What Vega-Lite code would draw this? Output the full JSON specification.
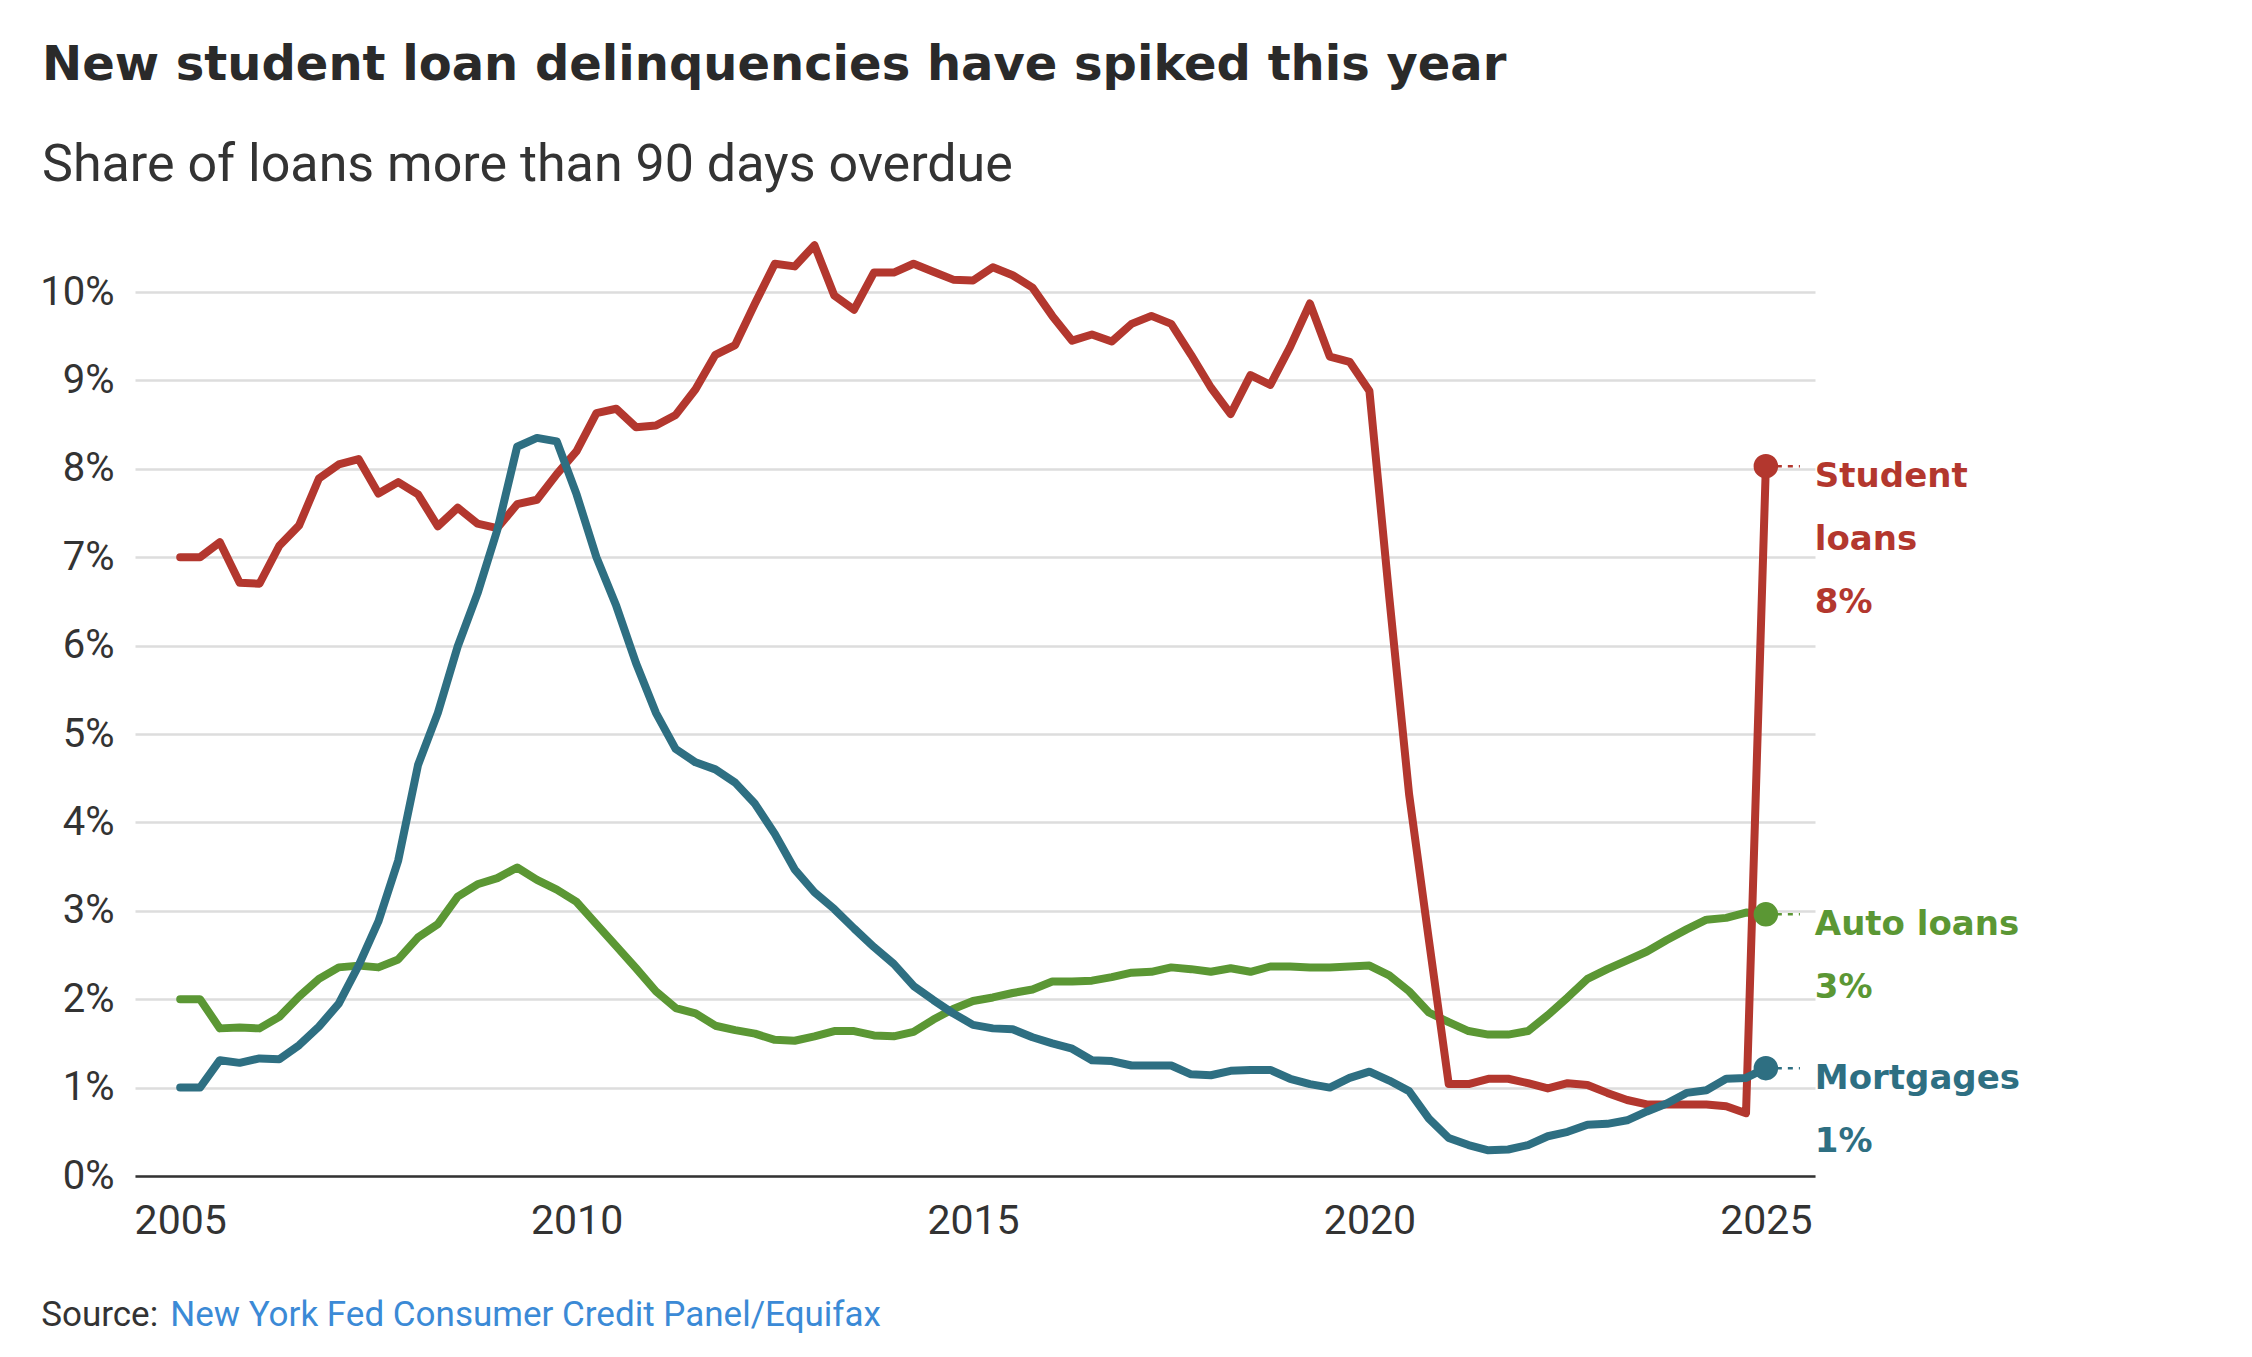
{
  "$schema": "https://vega.github.io/schema/vega-lite/v6.json",
  "autosize": {"type": "none"},
  "padding": {"left": 135, "top": 239, "right": 437, "bottom": 181},
  "width": 1680,
  "height": 937,
  "background": "white",
  "title": {
    "text": "New student loan delinquencies have spiked this year",
    "subtitle": "Share of loans more than 90 days overdue",
    "anchor": "start",
    "frame": "group",
    "dx": -93,
    "offset": 48,
    "font": "DejaVu Sans",
    "fontSize": 48,
    "fontWeight": "bold",
    "color": "#2a2a2a",
    "subtitleFont": "Roboto",
    "subtitleFontSize": 52,
    "subtitleColor": "#333333",
    "subtitlePadding": 50
  },
  "datasets": {
    "series": [
      {"t": 2005.00, "student": 7.00, "auto": 2.00, "mortgage": 1.00},
      {"t": 2005.25, "student": 7.00, "auto": 2.00, "mortgage": 1.00},
      {"t": 2005.50, "student": 7.17, "auto": 1.67, "mortgage": 1.31},
      {"t": 2005.75, "student": 6.71, "auto": 1.68, "mortgage": 1.28},
      {"t": 2006.00, "student": 6.70, "auto": 1.67, "mortgage": 1.33},
      {"t": 2006.25, "student": 7.13, "auto": 1.80, "mortgage": 1.32},
      {"t": 2006.50, "student": 7.36, "auto": 2.03, "mortgage": 1.48},
      {"t": 2006.75, "student": 7.89, "auto": 2.23, "mortgage": 1.69},
      {"t": 2007.00, "student": 8.05, "auto": 2.36, "mortgage": 1.95},
      {"t": 2007.25, "student": 8.11, "auto": 2.38, "mortgage": 2.38},
      {"t": 2007.50, "student": 7.72, "auto": 2.36, "mortgage": 2.88},
      {"t": 2007.75, "student": 7.85, "auto": 2.45, "mortgage": 3.57},
      {"t": 2008.00, "student": 7.71, "auto": 2.70, "mortgage": 4.65},
      {"t": 2008.25, "student": 7.35, "auto": 2.85, "mortgage": 5.24},
      {"t": 2008.50, "student": 7.56, "auto": 3.16, "mortgage": 5.99},
      {"t": 2008.75, "student": 7.38, "auto": 3.30, "mortgage": 6.59},
      {"t": 2009.00, "student": 7.33, "auto": 3.37, "mortgage": 7.31},
      {"t": 2009.25, "student": 7.60, "auto": 3.49, "mortgage": 8.25},
      {"t": 2009.50, "student": 7.65, "auto": 3.35, "mortgage": 8.35},
      {"t": 2009.75, "student": 7.94, "auto": 3.24, "mortgage": 8.31},
      {"t": 2010.00, "student": 8.20, "auto": 3.10, "mortgage": 7.71},
      {"t": 2010.25, "student": 8.63, "auto": 2.85, "mortgage": 7.00},
      {"t": 2010.50, "student": 8.68, "auto": 2.60, "mortgage": 6.45},
      {"t": 2010.75, "student": 8.47, "auto": 2.35, "mortgage": 5.80},
      {"t": 2011.00, "student": 8.49, "auto": 2.09, "mortgage": 5.24},
      {"t": 2011.25, "student": 8.61, "auto": 1.90, "mortgage": 4.83},
      {"t": 2011.50, "student": 8.90, "auto": 1.84, "mortgage": 4.68},
      {"t": 2011.75, "student": 9.29, "auto": 1.70, "mortgage": 4.60},
      {"t": 2012.00, "student": 9.40, "auto": 1.65, "mortgage": 4.45},
      {"t": 2012.25, "student": 9.87, "auto": 1.61, "mortgage": 4.21},
      {"t": 2012.50, "student": 10.32, "auto": 1.54, "mortgage": 3.87},
      {"t": 2012.75, "student": 10.29, "auto": 1.53, "mortgage": 3.47},
      {"t": 2013.00, "student": 10.53, "auto": 1.58, "mortgage": 3.21},
      {"t": 2013.25, "student": 9.96, "auto": 1.64, "mortgage": 3.02},
      {"t": 2013.50, "student": 9.80, "auto": 1.64, "mortgage": 2.80},
      {"t": 2013.75, "student": 10.22, "auto": 1.59, "mortgage": 2.59},
      {"t": 2014.00, "student": 10.22, "auto": 1.58, "mortgage": 2.40},
      {"t": 2014.25, "student": 10.32, "auto": 1.63, "mortgage": 2.15},
      {"t": 2014.50, "student": 10.23, "auto": 1.77, "mortgage": 1.99},
      {"t": 2014.75, "student": 10.14, "auto": 1.89, "mortgage": 1.84},
      {"t": 2015.00, "student": 10.13, "auto": 1.98, "mortgage": 1.71},
      {"t": 2015.25, "student": 10.28, "auto": 2.02, "mortgage": 1.67},
      {"t": 2015.50, "student": 10.19, "auto": 2.07, "mortgage": 1.66},
      {"t": 2015.75, "student": 10.05, "auto": 2.11, "mortgage": 1.57},
      {"t": 2016.00, "student": 9.73, "auto": 2.20, "mortgage": 1.50},
      {"t": 2016.25, "student": 9.45, "auto": 2.20, "mortgage": 1.44},
      {"t": 2016.50, "student": 9.52, "auto": 2.21, "mortgage": 1.31},
      {"t": 2016.75, "student": 9.44, "auto": 2.25, "mortgage": 1.30},
      {"t": 2017.00, "student": 9.64, "auto": 2.30, "mortgage": 1.25},
      {"t": 2017.25, "student": 9.73, "auto": 2.31, "mortgage": 1.25},
      {"t": 2017.50, "student": 9.64, "auto": 2.36, "mortgage": 1.25},
      {"t": 2017.75, "student": 9.29, "auto": 2.34, "mortgage": 1.15},
      {"t": 2018.00, "student": 8.92, "auto": 2.31, "mortgage": 1.14},
      {"t": 2018.25, "student": 8.62, "auto": 2.35, "mortgage": 1.19},
      {"t": 2018.50, "student": 9.06, "auto": 2.31, "mortgage": 1.20},
      {"t": 2018.75, "student": 8.95, "auto": 2.37, "mortgage": 1.20},
      {"t": 2019.00, "student": 9.38, "auto": 2.37, "mortgage": 1.10},
      {"t": 2019.25, "student": 9.87, "auto": 2.36, "mortgage": 1.04},
      {"t": 2019.50, "student": 9.27, "auto": 2.36, "mortgage": 1.00},
      {"t": 2019.75, "student": 9.21, "auto": 2.37, "mortgage": 1.11},
      {"t": 2020.00, "student": 8.88, "auto": 2.38, "mortgage": 1.18},
      {"t": 2020.25, "student": 6.55, "auto": 2.27, "mortgage": 1.08},
      {"t": 2020.50, "student": 4.32, "auto": 2.09, "mortgage": 0.96},
      {"t": 2020.75, "student": 2.67, "auto": 1.85, "mortgage": 0.65},
      {"t": 2021.00, "student": 1.04, "auto": 1.74, "mortgage": 0.43},
      {"t": 2021.25, "student": 1.04, "auto": 1.64, "mortgage": 0.35},
      {"t": 2021.50, "student": 1.10, "auto": 1.60, "mortgage": 0.29},
      {"t": 2021.75, "student": 1.10, "auto": 1.60, "mortgage": 0.30},
      {"t": 2022.00, "student": 1.05, "auto": 1.64, "mortgage": 0.35},
      {"t": 2022.25, "student": 0.99, "auto": 1.82, "mortgage": 0.45},
      {"t": 2022.50, "student": 1.05, "auto": 2.02, "mortgage": 0.50},
      {"t": 2022.75, "student": 1.03, "auto": 2.23, "mortgage": 0.58},
      {"t": 2023.00, "student": 0.94, "auto": 2.34, "mortgage": 0.59},
      {"t": 2023.25, "student": 0.86, "auto": 2.44, "mortgage": 0.63},
      {"t": 2023.50, "student": 0.81, "auto": 2.54, "mortgage": 0.73},
      {"t": 2023.75, "student": 0.81, "auto": 2.67, "mortgage": 0.82},
      {"t": 2024.00, "student": 0.81, "auto": 2.79, "mortgage": 0.94},
      {"t": 2024.25, "student": 0.81, "auto": 2.90, "mortgage": 0.97},
      {"t": 2024.50, "student": 0.79, "auto": 2.92, "mortgage": 1.10},
      {"t": 2024.75, "student": 0.71, "auto": 2.98, "mortgage": 1.11},
      {"t": 2025.00, "student": 8.03, "auto": 2.96, "mortgage": 1.22}
    ],
    "ends": [
      {"key": "auto", "t": 2025.0, "v": 2.96, "label": ["Auto loans", "3%"]},
      {"key": "student", "t": 2025.0, "v": 8.03, "label": ["Student", "loans", "8%"]},
      {"key": "mortgage", "t": 2025.0, "v": 1.22, "label": ["Mortgages", "1%"]}
    ]
  },
  "config": {
    "view": {"stroke": null},
    "font": "Roboto"
  },
  "layer": [
    {
      "data": {"name": "series"},
      "transform": [{"fold": ["auto", "student", "mortgage"], "as": ["key", "v"]}],
      "mark": {"type": "line", "strokeWidth": 8, "strokeJoin": "round", "strokeCap": "round"},
      "encoding": {
        "x": {
          "field": "t",
          "type": "quantitative",
          "scale": {"domain": [2004.43, 2025.62], "nice": false, "zero": false},
          "axis": {
            "values": [2005, 2010, 2015, 2020, 2025],
            "format": "d",
            "title": null,
            "grid": false,
            "ticks": false,
            "domain": true,
            "domainColor": "#333333",
            "domainWidth": 2.5,
            "labelFont": "Roboto",
            "labelFontSize": 41,
            "labelColor": "#333333",
            "labelPadding": 25,
            "labelFlush": false,
            "zindex": 1
          }
        },
        "y": {
          "field": "v",
          "type": "quantitative",
          "scale": {"domain": [0, 10.6], "nice": false},
          "axis": {
            "values": [0, 1, 2, 3, 4, 5, 6, 7, 8, 9, 10],
            "labelExpr": "datum.value + '%'",
            "title": null,
            "grid": true,
            "gridColor": "#dddddd",
            "gridWidth": 2.5,
            "ticks": false,
            "domain": false,
            "labelFont": "Roboto",
            "labelFontSize": 40,
            "labelColor": "#333333",
            "labelPadding": 21
          }
        },
        "color": {
          "field": "key",
          "type": "nominal",
          "scale": {"domain": ["auto", "student", "mortgage"], "range": ["#5b9734", "#b3372e", "#2e6f82"]},
          "legend": null
        },
        "order": {"field": "t", "type": "quantitative"}
      }
    },
    {
      "data": {"name": "ends"},
      "mark": {"type": "rule", "strokeWidth": 2.5, "strokeDash": [5, 6]},
      "encoding": {
        "x": {"field": "t", "type": "quantitative"},
        "x2": {"datum": 2025.43},
        "y": {"field": "v", "type": "quantitative"},
        "color": {"field": "key", "type": "nominal", "legend": null}
      }
    },
    {
      "data": {"name": "ends"},
      "mark": {"type": "point", "filled": true, "opacity": 1, "size": 600},
      "encoding": {
        "x": {"field": "t", "type": "quantitative"},
        "y": {"field": "v", "type": "quantitative"},
        "color": {"field": "key", "type": "nominal", "legend": null}
      }
    },
    {
      "data": {"name": "ends"},
      "mark": {"type": "text", "align": "left", "baseline": "alphabetic", "dx": 49, "dy": 21, "font": "DejaVu Sans", "fontWeight": "bold", "fontSize": 34, "lineHeight": 63},
      "encoding": {
        "x": {"field": "t", "type": "quantitative"},
        "y": {"field": "v", "type": "quantitative"},
        "text": {"field": "label"},
        "color": {"field": "key", "type": "nominal", "legend": null}
      }
    },
    {
      "data": {"values": [{}]},
      "mark": {"type": "text", "align": "left", "baseline": "alphabetic", "font": "Roboto", "fontSize": 35, "color": "#333333"},
      "encoding": {
        "x": {"datum": 2003.247},
        "y": {"datum": -1.696},
        "text": {"value": "Source:"}
      }
    },
    {
      "data": {"values": [{}]},
      "mark": {"type": "text", "align": "left", "baseline": "alphabetic", "font": "Roboto", "fontSize": 35, "color": "#3b8ad6"},
      "encoding": {
        "x": {"datum": 2004.874},
        "y": {"datum": -1.696},
        "text": {"value": "New York Fed Consumer Credit Panel/Equifax"}
      }
    }
  ]
}
